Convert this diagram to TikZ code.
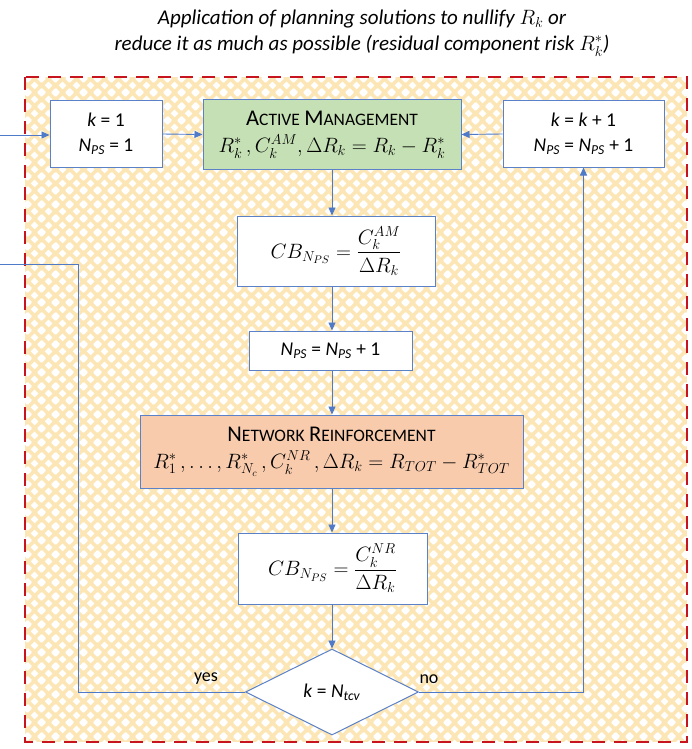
\documentclass[tikz,border=0pt]{standalone}
\usepackage{amsmath}
\usepackage{fontspec}
\setmainfont{Carlito}
\usetikzlibrary{arrows.meta,shapes.geometric,patterns}

\definecolor{boxblue}{RGB}{91,130,200}
\definecolor{lineblue}{RGB}{79,122,200}
\definecolor{amgreen}{RGB}{197,224,180}
\definecolor{nrorange}{RGB}{248,203,173}
\definecolor{zonebg}{RGB}{252,230,182}
\definecolor{zonered}{RGB}{200,20,30}

% white diamond lattice laid over the zone colour
\pgfdeclarepatternformonly{diamondgrid}{\pgfpointorigin}{\pgfpoint{14pt}{14pt}}{\pgfpoint{14pt}{14pt}}{%
  \foreach \cx/\cy in {7/7,0/0,14/0,0/14,14/14}{%
    \pgfpathmoveto{\pgfpoint{\cx pt}{\cy pt - 4.1pt}}%
    \pgfpathlineto{\pgfpoint{\cx pt + 4.1pt}{\cy pt}}%
    \pgfpathlineto{\pgfpoint{\cx pt}{\cy pt + 4.1pt}}%
    \pgfpathlineto{\pgfpoint{\cx pt - 4.1pt}{\cy pt}}%
    \pgfpathclose}%
  \pgfusepath{fill}}

\newcommand{\capL}[1]{{\fontsize{22.5}{24}\selectfont #1}}
\newcommand{\capS}[1]{{\fontsize{17.5}{24}\selectfont #1}}
\newcommand{\formula}[2]{{\fontsize{#1}{24}\selectfont$#2$}}

\tikzset{
  box/.style={draw=boxblue, line width=1pt, fill=white, inner sep=0pt, align=center,
              font=\fontsize{19.5}{22}\selectfont},
  arr/.style={draw=lineblue, line width=0.9pt, -{Triangle[length=8pt,width=7pt]}},
  link/.style={draw=lineblue, line width=0.9pt},
  lbl/.style={font=\fontsize{18}{20}\selectfont, inner sep=0pt},
}

\begin{document}
\begin{tikzpicture}[x=1pt,y=-1pt]
\useasboundingbox (0,0) rectangle (692,749);

% title
\node[font=\fontsize{21}{26}\selectfont\itshape, align=center] (title) at (362,33)
  {Application of planning solutions to nullify {\fontsize{22}{26}\selectfont$R_k$} or\\
   reduce it as much as possible (residual component risk {\fontsize{22}{26}\selectfont$R_k^{*}$})};

% planning zone
\fill[zonebg] (25,77) rectangle (687,742);
\fill[pattern=diamondgrid, pattern color=white] (25,77) rectangle (687,742);
\draw[zonered, line width=2.8pt, dash pattern=on 13pt off 9pt] (25,77) rectangle (687,742);

% nodes
\node[box, minimum width=112, minimum height=66] (k1) at (106,134)
  {\textit{k} = 1\\[3pt] \textit{N}\textsubscript{\textit{PS}} = 1};
\node[box, fill=amgreen, minimum width=258, minimum height=69] (am) at (332,134.5)
  {\capL{A}\capS{CTIVE} \capL{M}\capS{ANAGEMENT}\\[5pt]
   \formula{21}{R_k^{*}\,, C_k^{AM}, \Delta R_k = R_k - R_k^{*}}};
\node[box, minimum width=161, minimum height=66] (kk) at (583.5,134)
  {\textit{k} = \textit{k} + 1\\[3pt] \textit{N}\textsubscript{\textit{PS}} = \textit{N}\textsubscript{\textit{PS}} + 1};
\node[box, minimum width=198, minimum height=70] (cbam) at (336,251)
  {\formula{22}{CB_{N_{PS}} = \dfrac{C_k^{AM}}{\Delta R_k}}};
\node[box, minimum width=163, minimum height=39] (nps) at (330.5,350.5)
  {\textit{N}\textsubscript{\textit{PS}} = \textit{N}\textsubscript{\textit{PS}} + 1};
\node[box, fill=nrorange, minimum width=383, minimum height=73] (nr) at (331.5,451.5)
  {\capL{N}\capS{ETWORK} \capL{R}\capS{EINFORCEMENT}\\[5pt]
   \formula{20.5}{R_1^{*}\,, \ldots, R_{N_c}^{*}\,, C_k^{NR}\,, \Delta R_k = R_{TOT} - R_{TOT}^{*}}};
\node[box, minimum width=189, minimum height=71] (cbnr) at (332.5,568.5)
  {\formula{22}{CB_{N_{PS}} = \dfrac{C_k^{NR}}{\Delta R_k}}};
\node[box, diamond, minimum width=173, minimum height=86] (dec) at (332,692)
  {\textit{k} = \textit{N}\textsubscript{\textit{tcv}}};

% loose ends of the connectors
\coordinate (entry) at (0,135);
\coordinate (exit) at (0,264);
\coordinate (yesturn) at (78,692);

% connectors
\draw[arr] (entry) -- (entry -| k1.west);
\draw[arr] (k1.east) -- (am.west);
\draw[arr] (kk.west) -- (am.east);
\draw[arr] (am.south) -- (am.south |- cbam.north);
\draw[arr] (am.south |- cbam.south) -- (am.south |- nps.north);
\draw[arr] (am.south |- nps.south) -- (am.south |- nr.north);
\draw[arr] (am.south |- nr.south) -- (am.south |- cbnr.north);
\draw[arr] (am.south |- cbnr.south) -- (dec.north);
\draw[link] (dec.west) -- (yesturn) |- (exit);
\draw[arr] (dec.east) -| (kk.south);

% branch labels
\node[lbl] (yes) at (206,679) {yes};
\node[lbl] (no) at (429,679) {no};
\end{tikzpicture}
\end{document}
